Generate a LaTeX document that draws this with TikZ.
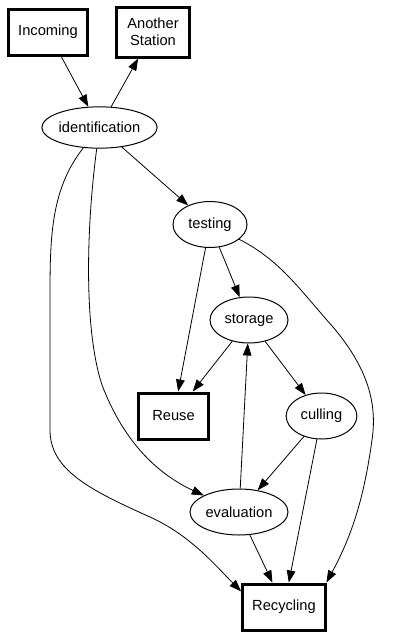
\documentclass[tikz,border=0pt]{standalone}
\usepackage{fontspec}
\setmainfont{Liberation Sans}
\usepackage{tikz}
\usetikzlibrary{arrows.meta, shapes.geometric}

\begin{document}
\begin{tikzpicture}[x=0.75pt, y=-0.75pt, >={Triangle[length=9pt,width=6.5pt]},
    station/.style={draw, line width=2.25pt, inner sep=0pt,
      minimum height=34.5pt, font=\fontsize{11}{13}\selectfont},
    stage/.style={draw, ellipse, line width=0.75pt, inner sep=0pt,
      minimum height=34.5pt, font=\fontsize{11}{13}\selectfont},
    flow/.style={->, line width=0.6pt}]

  \useasboundingbox (0,0) rectangle (416,639);

  % stations
  \node[station, minimum width=59pt] (incoming) at (48,32) {Incoming};
  \node[station, minimum width=55pt, minimum height=37.5pt, align=center]
    (another) at (153,32) {Another\\Station};
  \node[station, minimum width=52.5pt] (reuse) at (173.5,416) {Reuse};
  \node[station, minimum width=62pt] (recycling) at (284,607) {Recycling};

  % stages
  \node[stage, minimum width=86pt, minimum height=31pt] (ident)
    at (99.5,127.5) {identification};
  \node[stage, minimum width=55.5pt] (testing) at (210,224.5) {testing};
  \node[stage, minimum width=58.5pt] (storage) at (249,320) {storage};
  \node[stage, minimum width=53pt] (culling) at (321.5,416) {culling};
  \node[stage, minimum width=73.5pt] (evaluation) at (239,512) {evaluation};

  \draw[flow] (incoming) -- (ident);
  \draw[flow] (ident) -- (another);
  \draw[flow] (ident) -- (testing);
  \draw[flow] (testing) -- (reuse);
  \draw[flow] (testing) -- (storage);
  \draw[flow] (storage) -- (reuse);
  \draw[flow] (storage) -- (culling);
  \draw[flow] (evaluation) -- (storage);
  \draw[flow] (culling) -- (evaluation);
  \draw[flow] (culling) -- (recycling);
  \draw[flow] (evaluation) -- (recycling);

  % long ways round
  \draw[flow] (ident) .. controls (86,230) and (84,330) .. (102,385)
    .. controls (125,445) and (160,475) .. (evaluation);
  \draw[flow] (ident) .. controls (50,190) and (50,240) .. (50,300)
    -- (50,430) .. controls (50,470) and (90,490) .. (150,517)
    .. controls (190,535) and (215,565) .. (recycling.160);
  \draw[flow] (testing) .. controls (280,260) and (300,290) .. (333,327)
    .. controls (365,365) and (378,400) .. (372,440)
    .. controls (365,490) and (355,530) .. (recycling.30);

\end{tikzpicture}
\end{document}
